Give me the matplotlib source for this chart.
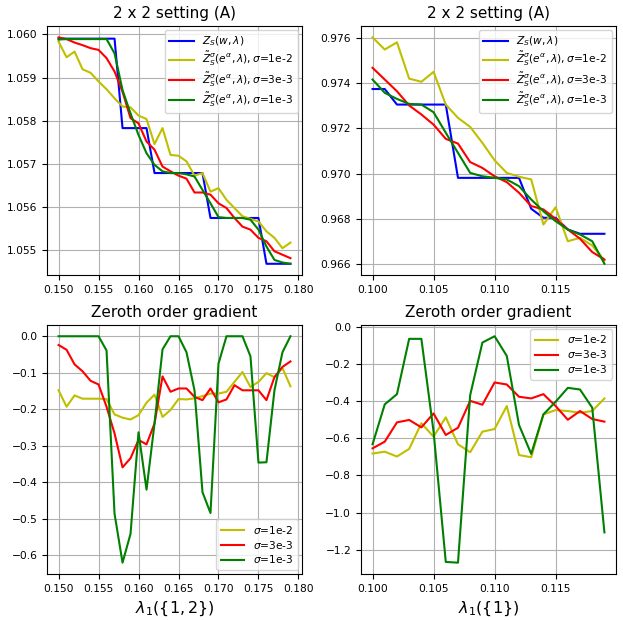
import numpy as np
import matplotlib
matplotlib.use("Agg")
import matplotlib.pyplot as plt

# lambda grids
lam_a = np.round(np.arange(0.150, 0.1795, 0.001), 3)
lam_b = np.round(np.arange(0.100, 0.1195, 0.001), 3)

# top left: Z_S and smoothed versions
zs_a = [1.0599]*8 + [1.05783]*4 + [1.05679]*7 + [1.05575]*7 + [1.05469]*4
zt_a_1e2 = [1.05983, 1.05947, 1.0596, 1.05919, 1.05911, 1.05891, 1.05873, 1.05852, 1.05833, 1.05831,
            1.05812, 1.05804, 1.05746, 1.05783, 1.05721, 1.05719, 1.05706, 1.05673, 1.05679, 1.05636,
            1.05644, 1.05617, 1.05598, 1.05579, 1.05573, 1.05567, 1.05544, 1.05529, 1.05505, 1.05518]
zt_a_3e3 = [1.05993, 1.05989, 1.05981, 1.05975, 1.05968, 1.05964, 1.05945, 1.05914, 1.05867, 1.05806,
            1.05794, 1.05752, 1.05733, 1.05694, 1.05683, 1.05673, 1.05666, 1.05634, 1.05634, 1.05629,
            1.05609, 1.05598, 1.05575, 1.05555, 1.05548, 1.05529, 1.05521, 1.05498, 1.0549, 1.05482]
zt_a_1e3 = [1.05988, 1.05989, 1.05989, 1.05989, 1.05989, 1.05989, 1.05989, 1.05956, 1.05871, 1.05817,
            1.05767, 1.05725, 1.05698, 1.05683, 1.05679, 1.05679, 1.05676, 1.05671, 1.0564, 1.05609,
            1.05577, 1.05575, 1.05575, 1.05575, 1.05571, 1.05548, 1.05509, 1.05478, 1.05472, 1.05469]

# top right
zs_b = [0.97375, 0.97375, 0.97306, 0.97306, 0.97306, 0.97306, 0.97306, 0.96981, 0.96981, 0.96981,
        0.96981, 0.96981, 0.96981, 0.96844, 0.96804, 0.96804, 0.96752, 0.96733, 0.96733, 0.96733]
zt_b_1e2 = [0.97604, 0.9755, 0.97582, 0.97421, 0.97407, 0.97451, 0.97306, 0.97247, 0.97207, 0.97136,
            0.97059, 0.97003, 0.96986, 0.96974, 0.96774, 0.96851, 0.967, 0.96715, 0.96681, 0.96615]
zt_b_3e3 = [0.97469, 0.97417, 0.97365, 0.97302, 0.97262, 0.97217, 0.97154, 0.97133, 0.97051, 0.97025,
            0.96988, 0.96962, 0.96915, 0.96856, 0.96841, 0.96799, 0.96752, 0.96711, 0.96652, 0.96619]
zt_b_1e3 = [0.97417, 0.97358, 0.97331, 0.97309, 0.97306, 0.97272, 0.97181, 0.97092, 0.97003, 0.96988,
            0.96981, 0.96974, 0.96944, 0.96885, 0.96833, 0.96789, 0.96752, 0.9673, 0.967, 0.966]

# bottom left: zeroth order gradient
g_a_1e2 = [-0.148, -0.193, -0.162, -0.171, -0.171, -0.171, -0.172, -0.214, -0.223, -0.228,
           -0.216, -0.182, -0.16, -0.221, -0.202, -0.172, -0.173, -0.17, -0.164, -0.157,
           -0.157, -0.152, -0.125, -0.098, -0.139, -0.125, -0.101, -0.112, -0.087, -0.137]
g_a_3e3 = [-0.024, -0.037, -0.077, -0.096, -0.122, -0.132, -0.193, -0.266, -0.359, -0.334,
           -0.284, -0.296, -0.239, -0.11, -0.152, -0.143, -0.143, -0.166, -0.175, -0.143,
           -0.181, -0.173, -0.134, -0.148, -0.148, -0.148, -0.175, -0.112, -0.084, -0.069]
g_a_1e3 = [0.0, 0.0, 0.0, 0.0, 0.0, 0.0, -0.039, -0.486, -0.62, -0.541,
           -0.263, -0.42, -0.239, -0.036, 0.0, 0.0, -0.044, -0.148, -0.427, -0.484,
           -0.075, 0.0, 0.0, 0.0, -0.055, -0.346, -0.345, -0.148, -0.044, 0.0]

# bottom right
g_b_1e2 = [-0.682, -0.672, -0.698, -0.657, -0.519, -0.591, -0.487, -0.632, -0.675, -0.564,
           -0.55, -0.426, -0.69, -0.702, -0.471, -0.448, -0.453, -0.462, -0.453, -0.385]
g_b_3e3 = [-0.654, -0.618, -0.514, -0.501, -0.541, -0.466, -0.582, -0.543, -0.398, -0.419,
           -0.299, -0.31, -0.376, -0.385, -0.362, -0.426, -0.5, -0.453, -0.496, -0.51]
g_b_1e3 = [-0.632, -0.417, -0.362, -0.064, -0.064, -0.564, -1.266, -1.27, -0.367, -0.084,
           -0.05, -0.156, -0.528, -0.684, -0.471, -0.403, -0.328, -0.337, -0.435, -1.107]

sig_names = ["1e-2", "3e-3", "1e-3"]
sig_colors = ["y", "r", "g"]

plt.rcParams["font.size"] = 7.7
plt.rcParams["lines.linewidth"] = 1.5

fig, axs = plt.subplots(2, 2, figsize=(6.23, 6.2), dpi=100)
fig.subplots_adjust(left=0.0754, right=0.9888, top=0.958, bottom=0.0742, wspace=0.231, hspace=0.2)

def top_panel(ax, x, zs, zts):
    ax.plot(x, zs, color="b", label=r"$Z_S(w,\lambda)$")
    for z, s, c in zip(zts, sig_names, sig_colors):
        ax.plot(x, z, color=c, label=r"$\tilde{Z}^{\sigma}_{S}(e^{\alpha},\lambda),\sigma$=" + s)
    ax.set_title("2 x 2 setting (A)", fontsize=11)
    ax.ticklabel_format(axis="y", useOffset=False)
    ax.grid(True)
    ax.legend(loc="upper right", labelspacing=0.2, borderaxespad=0.4, handlelength=2.3)

def bottom_panel(ax, x, gs, xlabel, loc):
    for g, s, c in zip(gs, sig_names, sig_colors):
        ax.plot(x, g, color=c, label=r"$\sigma$=" + s)
    ax.set_title("Zeroth order gradient", fontsize=11)
    ax.set_xlabel(xlabel, fontsize=11.5)
    ax.grid(True)
    ax.legend(loc=loc, labelspacing=0.27, borderaxespad=0.4, handlelength=2.2)

top_panel(axs[0, 0], lam_a, zs_a, [zt_a_1e2, zt_a_3e3, zt_a_1e3])
top_panel(axs[0, 1], lam_b, zs_b, [zt_b_1e2, zt_b_3e3, zt_b_1e3])
bottom_panel(axs[1, 0], lam_a, [g_a_1e2, g_a_3e3, g_a_1e3], r"$\lambda_1(\{1,2\})$", "lower right")
bottom_panel(axs[1, 1], lam_b, [g_b_1e2, g_b_3e3, g_b_1e3], r"$\lambda_1(\{1\})$", "upper right")

axs[0, 0].set_xticks([0.150, 0.155, 0.160, 0.165, 0.170, 0.175, 0.180])
axs[1, 0].set_xticks([0.150, 0.155, 0.160, 0.165, 0.170, 0.175, 0.180])
axs[0, 1].set_xticks([0.100, 0.105, 0.110, 0.115])
axs[1, 1].set_xticks([0.100, 0.105, 0.110, 0.115])

fig.savefig("out.png", dpi=100)
